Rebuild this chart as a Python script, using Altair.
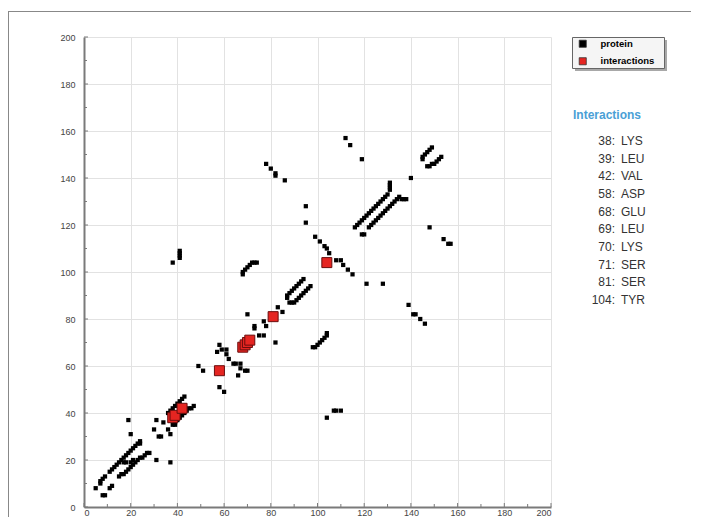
import altair as alt
import pandas as pd

# ---- data ----
contacts_low = [
    (5, 8), (7, 10), (7, 11), (8, 12), (9, 13), (11, 15), (12, 16), (13, 17), (14, 18), (15, 19),
    (16, 20), (17, 21), (18, 22), (19, 23), (20, 24), (21, 25), (22, 26), (23, 27), (24, 27), (24, 28),
    (8, 5), (9, 5), (11, 8), (12, 9), (15, 13), (16, 14), (17, 14), (18, 15), (19, 16), (20, 17),
    (21, 18), (22, 19), (23, 20), (24, 21), (25, 21), (26, 22), (27, 23), (28, 23),
    (17, 19), (18, 19), (20, 19), (21, 20),
    (19, 37), (20, 31), (31, 20), (37, 19),
    (30, 33), (31, 37), (32, 30), (33, 30), (34, 36), (36, 33), (37, 31),
    (36, 40), (37, 41), (38, 42), (39, 43), (40, 44), (41, 45), (42, 46), (43, 47),
    (38, 35), (39, 36), (40, 37), (41, 38), (42, 39), (43, 40), (44, 41), (45, 42), (46, 42), (47, 43),
    (39, 35), (37, 39),
]
contacts_mid = [
    (49, 60), (51, 58), (58, 51), (60, 49),
    (58, 69), (57, 66), (59, 67), (61, 67), (61, 65), (62, 63), (64, 61), (65, 61), (67, 61),
    (67, 59), (66, 56), (69, 58), (70, 58),
    (70, 82), (73, 77), (73, 76), (75, 73), (77, 73), (77, 79), (78, 77), (82, 70), (83, 85), (85, 83),
    (87, 89), (87, 90), (88, 91), (89, 92), (90, 93), (91, 94), (92, 95), (93, 96), (94, 97),
    (88, 87), (89, 87), (90, 87), (91, 88), (92, 89), (93, 90), (94, 91), (95, 92), (96, 93), (97, 94),
]
contacts_high = [
    (68, 99), (68, 100), (69, 101), (70, 102), (71, 103), (72, 104), (73, 104), (74, 104),
    (38, 104), (41, 106), (41, 107), (41, 108), (41, 109),
    (78, 146), (80, 144), (82, 142), (82, 141), (86, 139),
    (95, 128), (95, 121),
    (99, 115), (101, 113), (103, 111), (104, 110), (105, 108),
    (108, 105), (110, 105), (111, 103), (113, 101), (115, 99),
    (121, 95), (128, 95),
    (112, 157), (114, 154), (119, 148),
    (98, 68), (99, 68), (100, 69), (101, 70), (102, 71), (103, 72), (104, 73), (104, 74),
    (104, 38), (107, 41), (108, 41), (110, 41),
    (139, 86), (141, 82), (142, 82), (144, 80), (146, 78),
    (140, 140),
    (116, 119), (117, 120), (118, 121), (119, 122), (120, 123), (121, 124), (122, 125), (123, 126),
    (124, 127), (125, 128), (126, 129), (127, 130), (128, 131), (129, 132), (130, 133), (131, 135),
    (131, 136), (131, 137), (131, 138),
    (119, 116), (120, 116), (122, 119), (123, 120), (124, 121), (125, 122), (126, 123), (127, 124),
    (128, 125), (129, 126), (130, 127), (131, 128), (132, 129), (133, 130), (134, 131), (135, 132),
    (136, 131), (137, 131), (138, 131),
    (145, 148), (145, 149), (146, 150), (147, 151), (148, 152), (149, 153),
    (147, 145), (148, 145), (149, 146), (150, 146), (151, 147), (152, 148), (153, 149),
    (148, 119), (154, 114), (156, 112), (157, 112),
]
interaction_residues = [38, 39, 42, 58, 68, 69, 70, 71, 81, 104]
interaction_names = ["LYS", "LEU", "VAL", "ASP", "GLU", "LEU", "LYS", "SER", "SER", "TYR"]
major_ticks = [0, 20, 40, 60, 80, 100, 120, 140, 160, 180, 200]
minor_ticks = [10, 30, 50, 70, 90, 110, 130, 150, 170, 190]

# ---- layout ----
W, H = 467, 470
FONT = "Liberation Sans"

all_contacts = contacts_low + contacts_mid + contacts_high
protein_df = pd.DataFrame({
    "x": [p[0] for p in all_contacts],
    "y": [p[1] for p in all_contacts],
    "kind": "protein",
})
inter_df = pd.DataFrame({"x": interaction_residues, "y": interaction_residues, "kind": "interactions"})
major_df = pd.DataFrame({"v": major_ticks})
minor_df = pd.DataFrame({"v": minor_ticks})
list_df = pd.DataFrame({
    "idx": list(range(len(interaction_residues))),
    "num": [f"{r}:" for r in interaction_residues],
    "name": interaction_names,
})
one = pd.DataFrame({"t": ["Interactions"]})

xs = alt.Scale(domain=[0, 200], nice=False, zero=False)
ys = alt.Scale(domain=[0, 200], nice=False, zero=False)

ax_common = dict(values=major_ticks, grid=True, ticks=False, labelFont=FONT, labelFontSize=9,
                 labelColor="#444444", domainColor="#7a7a7a", domainWidth=2,
                 gridColor="#e2e2e2", gridWidth=1, title=None)
x_axis = alt.Axis(labelPadding=1, **ax_common)
y_axis = alt.Axis(labelPadding=9, **ax_common)

X = lambda f: alt.X(f, scale=xs, axis=x_axis)
Y = lambda f: alt.Y(f, scale=ys, axis=y_axis)

color = alt.Color(
    "kind:N",
    scale=alt.Scale(domain=["protein", "interactions"], range=["#000000", "#e52521"]),
    legend=alt.Legend(
        title=None, orient="none", legendX=488, legendY=-1, direction="vertical",
        symbolType="square", symbolSize=50, symbolStrokeColor="#333333", symbolStrokeWidth=0.8,
        symbolOffset=3,
        labelFont=FONT, labelFontSize=9.5, labelFontWeight="bold", labelColor="#000000",
        labelOffset=13, padding=3, rowPadding=6.5,
    ),
)

frame_left = alt.Chart(one).mark_rule(color="#888888", strokeWidth=1).encode(
    x=alt.value(-75.5), y=alt.value(-26), y2=alt.value(H + 10))
frame_top = alt.Chart(one).mark_rule(color="#888888", strokeWidth=1).encode(
    x=alt.value(-75.5), x2=alt.value(W + 140), y=alt.value(-25.5))
shadow = alt.Chart(one).mark_rect(color="#a8a8a8").encode(
    x=alt.value(491), x2=alt.value(583), y=alt.value(3), y2=alt.value(34))
legend_box = alt.Chart(one).mark_rect(fill="#f5f5f5", stroke="#666666", strokeWidth=1).encode(
    x=alt.value(488.5), x2=alt.value(580.5), y=alt.value(0.5), y2=alt.value(31.5))

xt_major = alt.Chart(major_df).mark_rule(color="#7a7a7a").encode(
    x=X("v:Q"), y=alt.value(H), y2=alt.value(H - 4))
xt_minor = alt.Chart(minor_df).mark_rule(color="#7a7a7a").encode(
    x=X("v:Q"), y=alt.value(H), y2=alt.value(H - 3))
yt_major = alt.Chart(major_df).mark_rule(color="#7a7a7a").encode(
    y=Y("v:Q"), x=alt.value(0), x2=alt.value(4))
yt_minor = alt.Chart(minor_df).mark_rule(color="#7a7a7a").encode(
    y=Y("v:Q"), x=alt.value(0), x2=alt.value(3))

protein = alt.Chart(protein_df).mark_square(size=18, opacity=1).encode(
    x=X("x:Q"), y=Y("y:Q"), color=color)
inter = alt.Chart(inter_df).mark_square(size=100, opacity=1, stroke="#6a0d0d", strokeWidth=1).encode(
    x=X("x:Q"), y=Y("y:Q"), color=color)

plot = alt.layer(frame_left, frame_top, shadow, legend_box,
                 xt_major, xt_minor, yt_major, yt_minor, protein, inter)

list_scale = alt.Scale(range=[104, 263], padding=0)
nums = alt.Chart(list_df).mark_text(align="right", baseline="middle", font=FONT, fontSize=12,
                                     color="#333333").encode(
    x=alt.value(531), y=alt.Y("idx:O", axis=None, scale=list_scale), text="num:N")
names = alt.Chart(list_df).mark_text(align="left", baseline="middle", font=FONT, fontSize=12,
                                      color="#333333").encode(
    x=alt.value(537), y=alt.Y("idx:O", axis=None, scale=list_scale), text="name:N")
title = alt.Chart(one).mark_text(align="left", baseline="middle", font=FONT, fontSize=12,
                                 fontWeight="bold", color="#4a9fd6").encode(
    x=alt.value(489), y=alt.value(78), text="t:N")

chart = alt.layer(plot, nums, names, title).resolve_scale(y="independent").properties(
    width=W, height=H,
    autosize=alt.AutoSizeParams(type="none"),
    padding={"left": 76, "top": 29, "right": 144, "bottom": 10},
    background="white",
).configure_view(stroke=None)

chart.save("out.html", embed_options={"renderer": "svg", "actions": False})
